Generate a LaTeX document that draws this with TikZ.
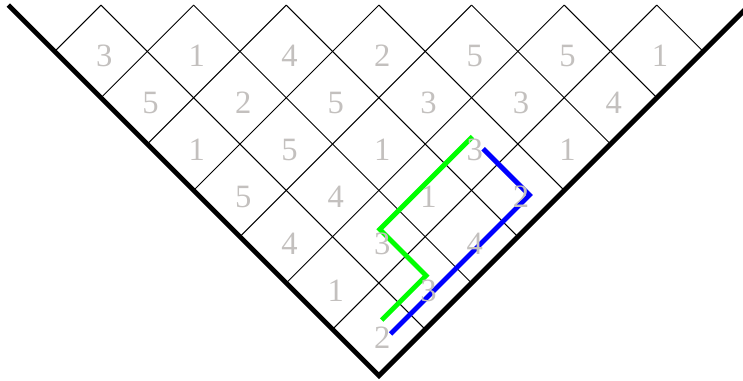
\documentclass[tikz,border=0pt]{standalone}
\usepackage{fontspec}
\setmainfont{Liberation Serif}
\usetikzlibrary{calc}
\definecolor{numgray}{RGB}{195,192,190}

\begin{document}
\begin{tikzpicture}[
		gridline/.style={line width=0.6pt},
		wall/.style={line width=3pt},
		num/.style={text=numgray, font=\fontsize{20}{24}\selectfont, inner sep=0pt},
		greenpath/.style={line width=3pt, green},
		bluepath/.style={line width=3pt, blue}]
			\useasboundingbox (-8.18,-0.11) rectangle (7.86,8.11);
			\def\cellvals{0/{3,1,4,2,5,5,1},1/{5,2,5,3,3,4},2/{1,5,1,3,1},3/{5,4,1,2},4/{4,3,4},5/{1,3},6/{2}}

			\foreach \m in {1,...,7} \draw [gridline] (2*\m-8,8) -- (\m,\m);
			\foreach \n in {1,...,7} \draw [gridline] (-\n,\n) -- (8-2*\n,8);
			\draw [wall] (-8,8) -- (0,0) -- (8,8);

			\foreach \r/\row in \cellvals
				\foreach \v [count=\c from 0] in \row
					\coordinate (d\r\c) at ({2*\c+\r-6},{7-\r});

			\draw [greenpath] ($(d23)+(0.02,0.16)$) -- ($(d41)+(0.02,0.16)$) -- ($(d51)+(0.02,0.16)$) -- ($(d60)+(0.06,0.2)$);
			\draw [bluepath] ($(d23)+(0.25,-0.1)$) -- ($(d33)+(0.25,-0.1)$) -- ($(d60)+(0.25,-0.1)$);

			\foreach \r/\row in \cellvals
				\foreach \v [count=\c from 0] in \row
					\node [num] (n\r\c) at ($(d\r\c)+(0.07,{-0.1-0.015*\r})$) {\v};
		\end{tikzpicture}
\end{document}
